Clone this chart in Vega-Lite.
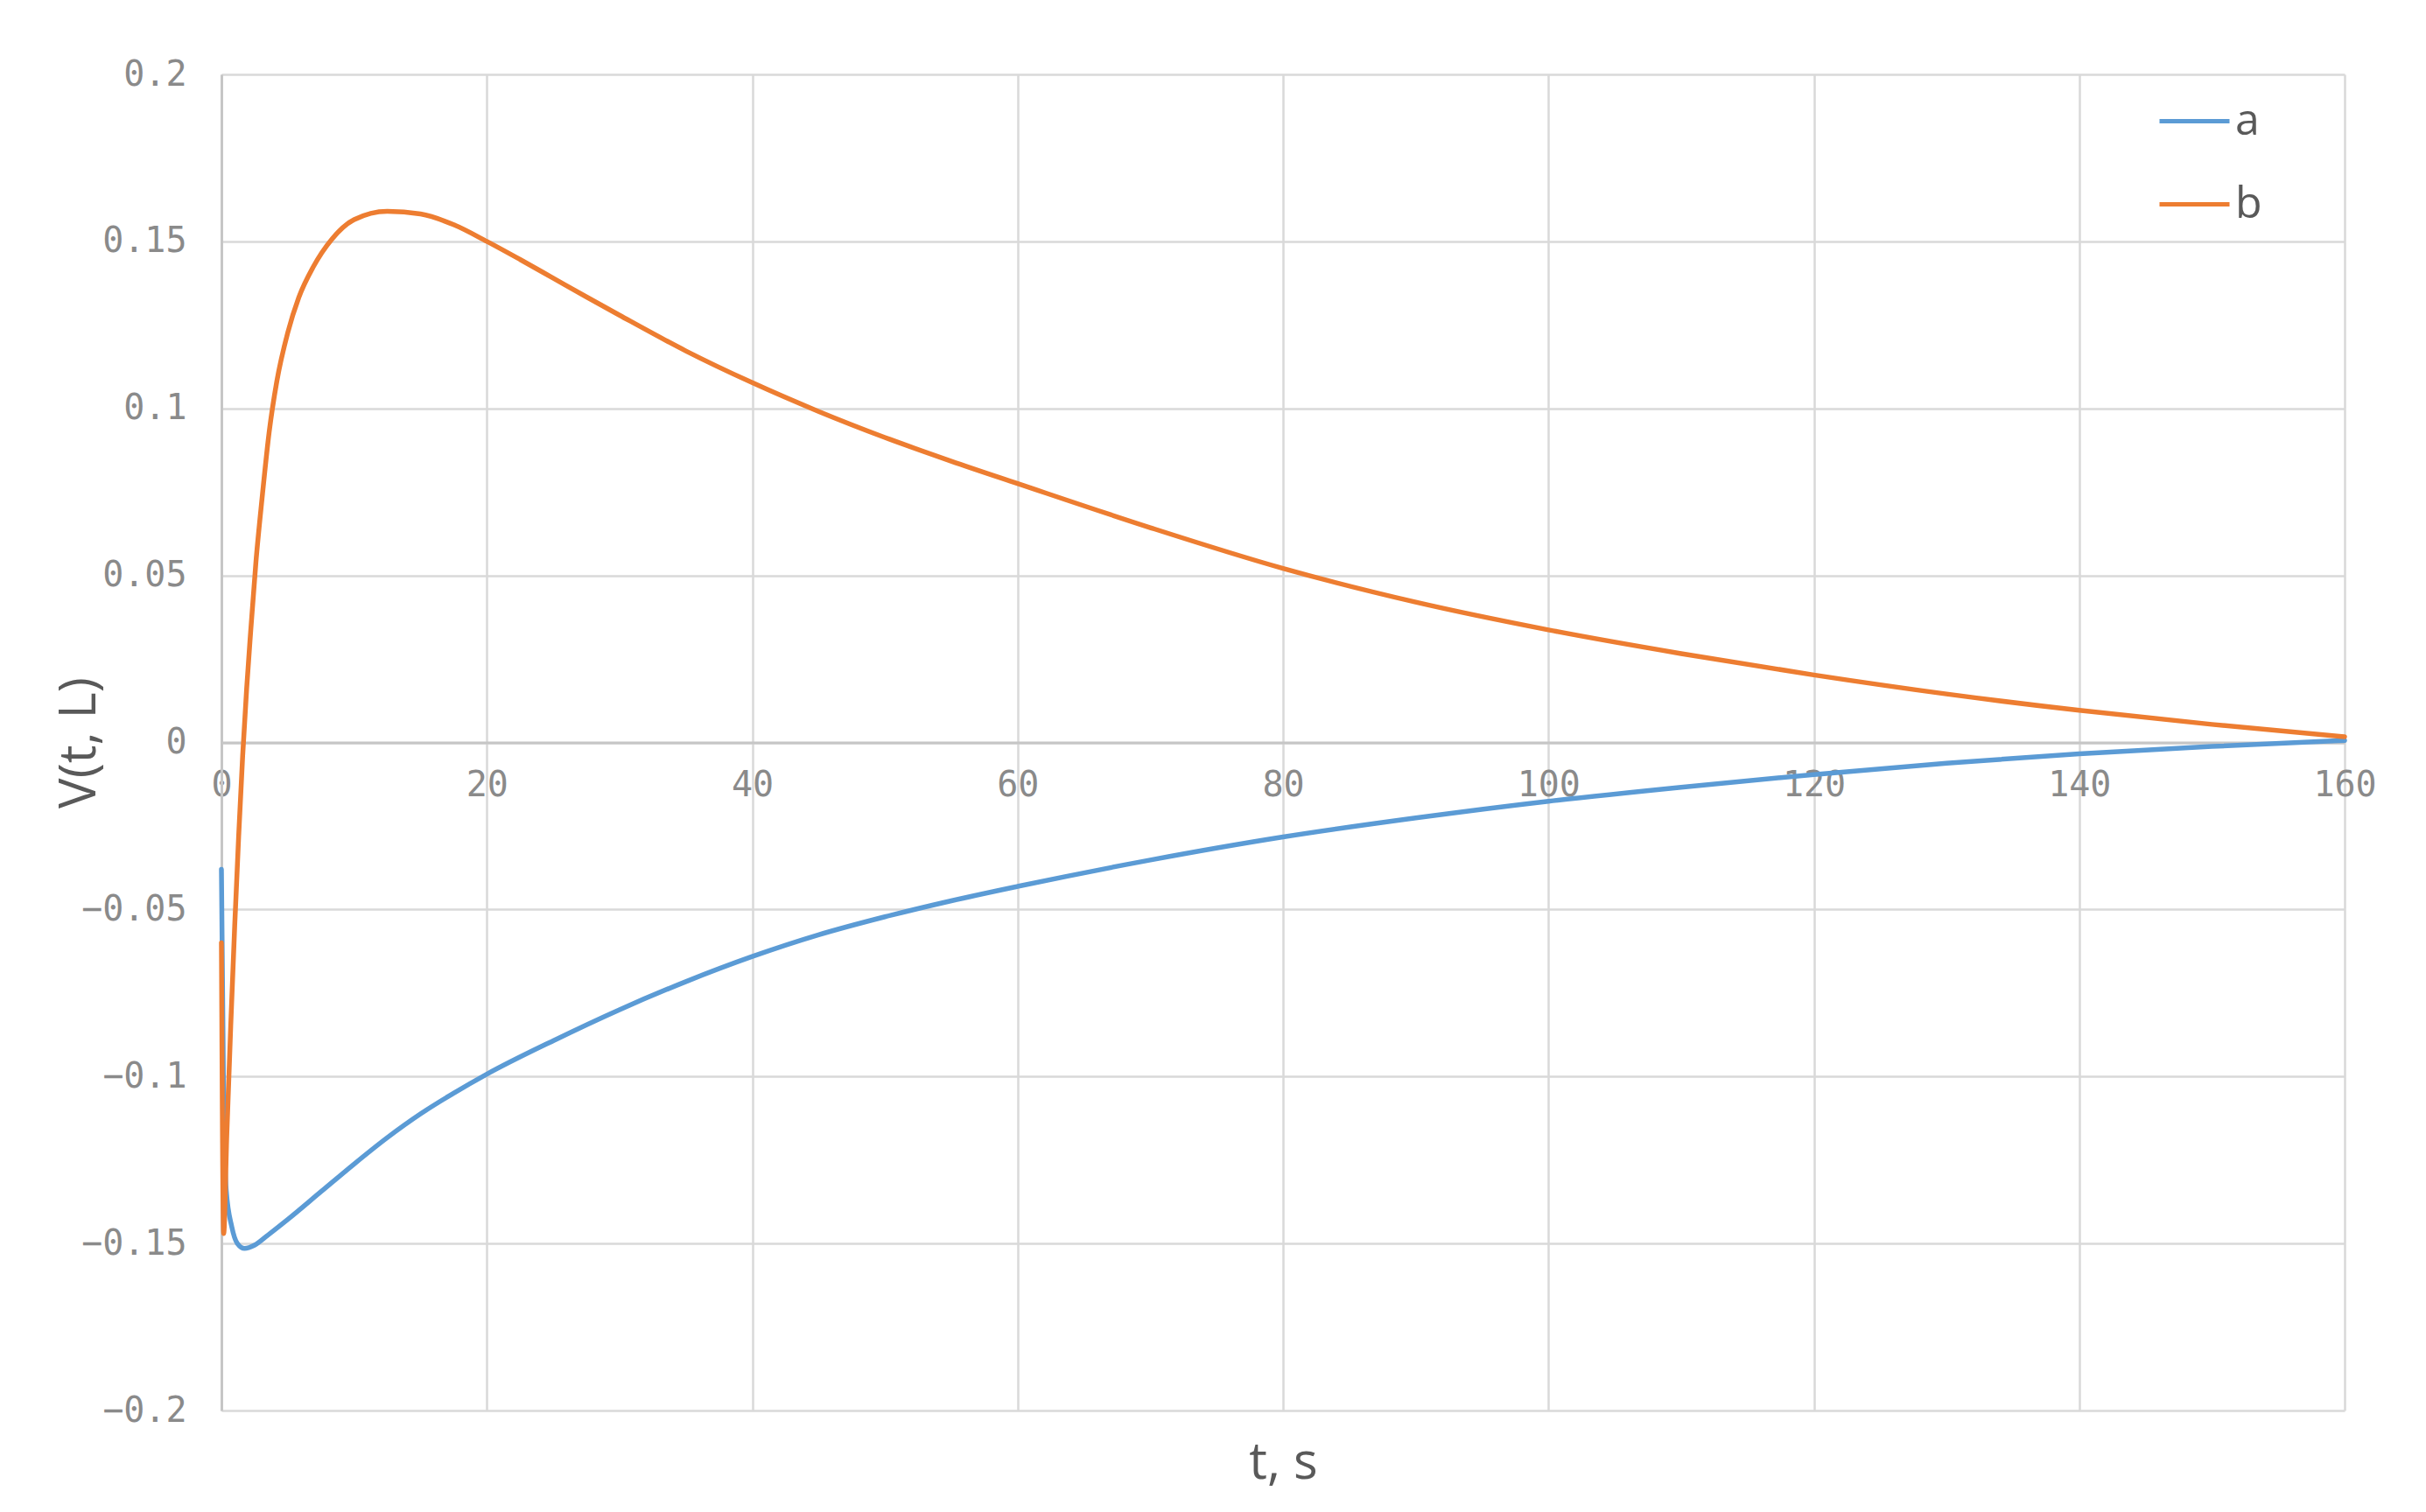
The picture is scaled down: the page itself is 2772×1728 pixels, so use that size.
{
  "$schema": "https://vega.github.io/schema/vega-lite/v6.json",
  "width": 2426,
  "height": 1527,
  "autosize": "none",
  "padding": {"left": 253, "top": 85, "right": 93, "bottom": 116},
  "background": "white",
  "config": {
    "view": {"stroke": null},
    "axis": {
      "gridColor": "#d9d9d9",
      "gridWidth": 2.5,
      "domainColor": "#c6c6c6",
      "domainWidth": 3,
      "ticks": false,
      "labelFont": "DejaVu Sans Mono",
      "labelFontSize": 40,
      "labelColor": "#8a8a8a",
      "titleFont": "Open Sans",
      "titleFontSize": 58,
      "titleFontWeight": "normal",
      "titleColor": "#595959"
    }
  },
  "data": {
    "values": [
      {"t": 0, "v": -0.038, "s": "a"},
      {"t": 0.15, "v": -0.1, "s": "a"},
      {"t": 0.36, "v": -0.134, "s": "a"},
      {"t": 0.78, "v": -0.145, "s": "a"},
      {"t": 1.2, "v": -0.15, "s": "a"},
      {"t": 1.75, "v": -0.1515, "s": "a"},
      {"t": 2.5, "v": -0.1505, "s": "a"},
      {"t": 3.5, "v": -0.1475, "s": "a"},
      {"t": 5, "v": -0.1428, "s": "a"},
      {"t": 7.5, "v": -0.1345, "s": "a"},
      {"t": 10, "v": -0.1262, "s": "a"},
      {"t": 12.5, "v": -0.1183, "s": "a"},
      {"t": 15, "v": -0.1112, "s": "a"},
      {"t": 17.5, "v": -0.105, "s": "a"},
      {"t": 20, "v": -0.0993, "s": "a"},
      {"t": 25, "v": -0.0893, "s": "a"},
      {"t": 30, "v": -0.08, "s": "a"},
      {"t": 35, "v": -0.0716, "s": "a"},
      {"t": 40, "v": -0.0641, "s": "a"},
      {"t": 45, "v": -0.0576, "s": "a"},
      {"t": 50, "v": -0.0522, "s": "a"},
      {"t": 55, "v": -0.0474, "s": "a"},
      {"t": 60, "v": -0.0431, "s": "a"},
      {"t": 70, "v": -0.0352, "s": "a"},
      {"t": 80, "v": -0.0283, "s": "a"},
      {"t": 90, "v": -0.0226, "s": "a"},
      {"t": 100, "v": -0.0176, "s": "a"},
      {"t": 110, "v": -0.0134, "s": "a"},
      {"t": 120, "v": -0.0096, "s": "a"},
      {"t": 130, "v": -0.0062, "s": "a"},
      {"t": 140, "v": -0.0034, "s": "a"},
      {"t": 150, "v": -0.0012, "s": "a"},
      {"t": 160, "v": 0.0006, "s": "a"},
      {"t": 0, "v": -0.06, "s": "b"},
      {"t": 0.17, "v": -0.147, "s": "b"},
      {"t": 0.4, "v": -0.118, "s": "b"},
      {"t": 0.7, "v": -0.085, "s": "b"},
      {"t": 1.0, "v": -0.055, "s": "b"},
      {"t": 1.3, "v": -0.028, "s": "b"},
      {"t": 1.6, "v": -0.004, "s": "b"},
      {"t": 1.9, "v": 0.016, "s": "b"},
      {"t": 2.2, "v": 0.033, "s": "b"},
      {"t": 2.6, "v": 0.054, "s": "b"},
      {"t": 3.06, "v": 0.073, "s": "b"},
      {"t": 3.6, "v": 0.093, "s": "b"},
      {"t": 4.17, "v": 0.108, "s": "b"},
      {"t": 5.0, "v": 0.1227, "s": "b"},
      {"t": 5.83, "v": 0.1332, "s": "b"},
      {"t": 6.94, "v": 0.1425, "s": "b"},
      {"t": 8.33, "v": 0.1507, "s": "b"},
      {"t": 10, "v": 0.1565, "s": "b"},
      {"t": 12.5, "v": 0.159, "s": "b"},
      {"t": 15, "v": 0.1582, "s": "b"},
      {"t": 17.5, "v": 0.155, "s": "b"},
      {"t": 20, "v": 0.15, "s": "b"},
      {"t": 22.5, "v": 0.1446, "s": "b"},
      {"t": 25, "v": 0.139, "s": "b"},
      {"t": 27.5, "v": 0.1334, "s": "b"},
      {"t": 30, "v": 0.1279, "s": "b"},
      {"t": 35, "v": 0.1172, "s": "b"},
      {"t": 40, "v": 0.1077, "s": "b"},
      {"t": 45, "v": 0.0991, "s": "b"},
      {"t": 50, "v": 0.0913, "s": "b"},
      {"t": 55, "v": 0.0842, "s": "b"},
      {"t": 60, "v": 0.0775, "s": "b"},
      {"t": 70, "v": 0.0643, "s": "b"},
      {"t": 80, "v": 0.0521, "s": "b"},
      {"t": 90, "v": 0.042, "s": "b"},
      {"t": 100, "v": 0.0337, "s": "b"},
      {"t": 110, "v": 0.0266, "s": "b"},
      {"t": 120, "v": 0.0202, "s": "b"},
      {"t": 130, "v": 0.0145, "s": "b"},
      {"t": 140, "v": 0.0096, "s": "b"},
      {"t": 150, "v": 0.0054, "s": "b"},
      {"t": 160, "v": 0.0017, "s": "b"}
    ]
  },
  "mark": {"type": "line", "strokeWidth": 5.5, "interpolate": "monotone", "strokeCap": "round"},
  "encoding": {
    "x": {
      "field": "t",
      "type": "quantitative",
      "scale": {"domain": [0, 160], "nice": false},
      "axis": {
        "title": "t, s",
        "values": [0, 20, 40, 60, 80, 100, 120, 140, 160],
        "offset": -763.5,
        "labelPadding": 29,
        "labelFlush": false,
        "labelBound": false,
        "labelOverlap": false,
        "titleY": 841,
        "titleBaseline": "alphabetic"
      }
    },
    "y": {
      "field": "v",
      "type": "quantitative",
      "scale": {"domain": [-0.2, 0.2], "nice": false},
      "axis": {
        "title": "V(t, L)",
        "values": [-0.2, -0.15, -0.1, -0.05, 0, 0.05, 0.1, 0.15, 0.2],
        "format": "~g",
        "labelPadding": 40,
        "labelFlush": false,
        "titleX": -145,
        "titleBaseline": "alphabetic"
      }
    },
    "color": {
      "field": "s",
      "type": "nominal",
      "scale": {"domain": ["a", "b"], "range": ["#5B9BD5", "#ED7D31"]},
      "legend": {
        "title": null,
        "orient": "none",
        "legendX": 2212,
        "legendY": 11,
        "padding": 0,
        "symbolType": "stroke",
        "symbolSize": 6400,
        "symbolStrokeWidth": 5,
        "labelFont": "Open Sans",
        "labelFontSize": 50,
        "labelColor": "#595959",
        "labelOffset": 4,
        "rowPadding": 27
      }
    }
  }
}
